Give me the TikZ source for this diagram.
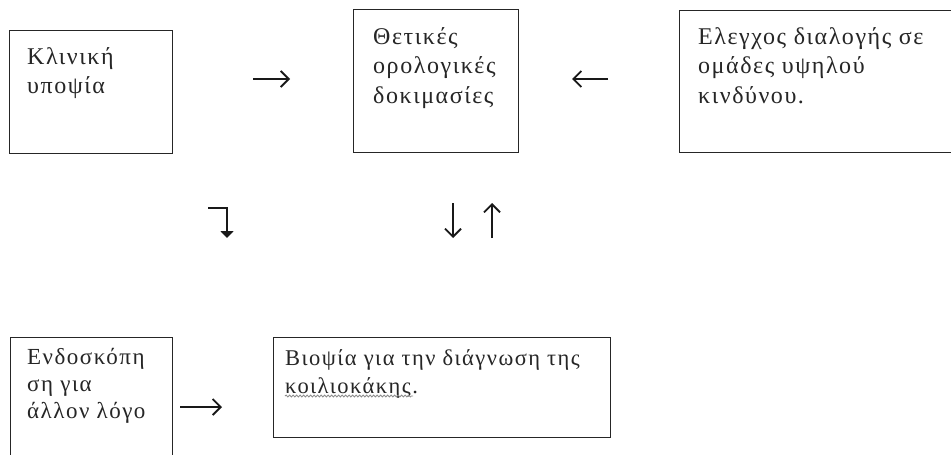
\documentclass[tikz,border=0pt]{standalone}
\usepackage{fontspec}
\setmainfont[LetterSpace=6.5]{Liberation Serif}
\usetikzlibrary{arrows.meta,decorations.pathmorphing}

\tikzset{
  box/.style={draw=black!85, line width=1.4pt, rectangle, inner sep=0pt, anchor=north west},
  txt/.style={inner sep=0pt, anchor=north west, align=left, text=black!85,
              font=\fontsize{24}{29.5}\selectfont},
  barb/.style={draw=black!90, line width=1.4pt, -{Straight Barb[length=8pt,width=16pt,line width=1.8pt]}},
  hook/.style={draw=black!90, line width=1.8pt, -{Triangle[length=7pt,width=13pt]}},
  squiggle/.style={draw=black!45, line width=0.8pt,
                   decorate, decoration={snake, amplitude=1pt, segment length=3.5pt}}
}

\begin{document}
\begin{tikzpicture}[x=1pt,y=-1pt]
  \useasboundingbox[fill=white] (0,0) rectangle (951,455);

  % boxes
  \node[box, minimum width=163pt, minimum height=123pt] (b1) at (9,30) {};
  \node[box, minimum width=165pt, minimum height=143pt] (b2) at (353,9) {};
  \node[box, minimum width=285pt, minimum height=142pt] (b3) at (679,10) {};
  \node[box, minimum width=162pt, minimum height=135pt] (b4) at (10,337) {};
  \node[box, minimum width=337pt, minimum height=100pt] (b5) at (273,337) {};

  % texts
  \node[txt] (t1) at (27,47) {Κλινική\\υποψία};
  \node[txt] (t2) at (373,27) {Θετικές\\ορολογικές\\δοκιμασίες};
  \node[txt] (t3) at (698,27) {Ελεγχος διαλογής σε\\ομάδες υψηλού\\κινδύνου.};
  \node[txt, font=\fontsize{23}{27}\selectfont] (t4) at (27,348) {Ενδοσκόπη\\ση για\\άλλον λόγο};
  \node[txt, font=\fontsize{22.5}{28}\selectfont] (t5) at (285,349) {Βιοψία για την διάγνωση της\\κοιλιοκάκης.};

  % spelling squiggle under the second line of t5
  \coordinate (sqa) at (285,396);
  \coordinate (sqb) at (413,396);
  \draw[squiggle] (sqa) -- (sqb);

  % arrows
  \coordinate (a1s) at (253,79);  \coordinate (a1e) at (290,79);
  \coordinate (a2s) at (608,79);  \coordinate (a2e) at (572,79);
  \coordinate (a3s) at (208,208); \coordinate (a3m) at (227,208); \coordinate (a3e) at (227,238);
  \coordinate (a4s) at (453,203); \coordinate (a4e) at (453,238);
  \coordinate (a5s) at (492,238); \coordinate (a5e) at (492,203);
  \coordinate (a6s) at (180,407); \coordinate (a6e) at (222,407);

  \draw[barb] (a1s) -- (a1e);
  \draw[barb] (a2s) -- (a2e);
  \draw[hook] (a3s) -- (a3m) -- (a3e);
  \draw[barb] (a4s) -- (a4e);
  \draw[barb] (a5s) -- (a5e);
  \draw[barb] (a6s) -- (a6e);
\end{tikzpicture}
\end{document}
